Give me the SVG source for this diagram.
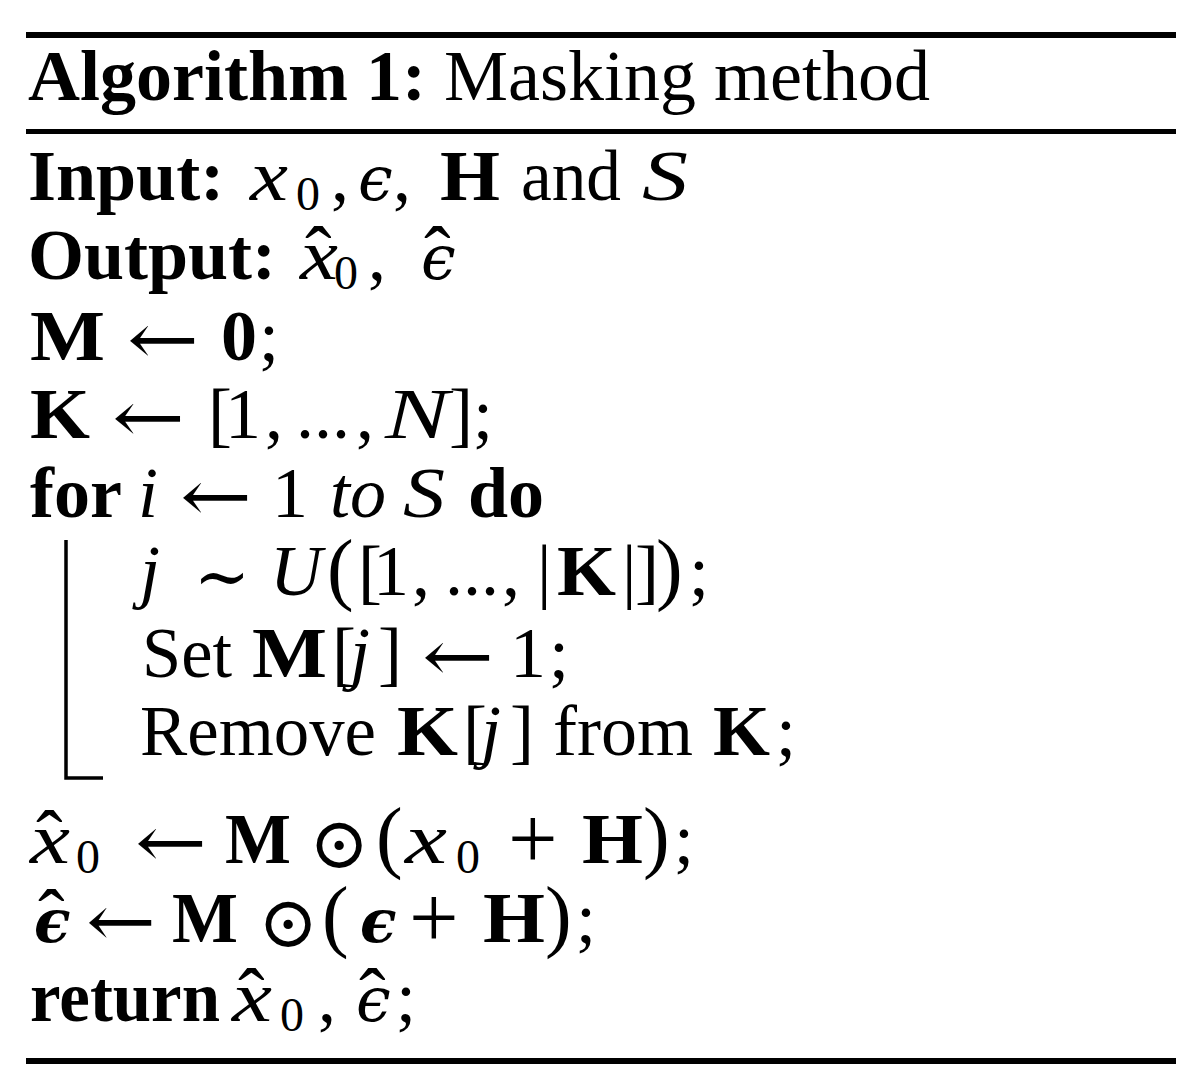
<svg xmlns="http://www.w3.org/2000/svg" width="1196" height="1092" viewBox="0 0 1196 1092">
<style>
text{font-family:"Liberation Serif","DejaVu Serif",serif;font-size:72px;fill:#000}
.b{font-weight:bold}
.i{font-style:italic}
.bi{font-weight:bold;font-style:italic}
.sub{font-size:48px;font-style:normal;font-weight:normal}
.hat{font-family:"Liberation Serif",serif;font-size:80px;font-style:normal;font-weight:normal}
.par{font-size:80px}
.plus{font-size:88px}
.sym{font-family:"DejaVu Serif","DejaVu Sans",serif}
.eps{font-family:"DejaVu Serif","DejaVu Sans",serif;font-size:62px;font-style:italic}
.beps{font-family:"DejaVu Serif","DejaVu Sans",serif;font-size:60px;font-style:italic;font-weight:bold}
</style>
<g id="rules">
<rect x="26" y="32" width="1150" height="6" fill="#000"/>
<rect x="26" y="129" width="1150" height="5" fill="#000"/>
<rect x="26" y="1058" width="1150" height="6" fill="#000"/>
</g>
<g id="title"><text x="28" y="100"><tspan class="b">Algorithm 1:</tspan> Masking method</text></g>
<g id="input">
<text x="28" y="200" class="b">Input:</text>
<text class="i"><tspan x="250" y="200" textLength="38" lengthAdjust="spacingAndGlyphs">x</tspan><tspan x="296" y="210" class="sub">0</tspan></text>
<text x="331" y="200">,</text>
<text x="358" y="200" class="eps">ϵ</text><text x="393" y="200">,</text>
<text x="440" y="200" class="b" textLength="60" lengthAdjust="spacingAndGlyphs">H</text>
<text x="521" y="200" textLength="100" lengthAdjust="spacingAndGlyphs">and</text>
<text x="642" y="200" class="i" textLength="46" lengthAdjust="spacingAndGlyphs">S</text>
</g>
<g id="output">
<text x="28" y="279" class="b">Output:</text>
<text class="i"><tspan x="300" y="279" textLength="38" lengthAdjust="spacingAndGlyphs">x</tspan><tspan x="305" y="282" class="hat">ˆ</tspan><tspan x="334" y="289" class="sub">0</tspan></text>
<text x="368" y="279">,</text>
<text class="eps"><tspan x="421" y="279">ϵ</tspan><tspan x="424" y="282" class="hat">ˆ</tspan></text>
</g>
<g id="line-m">
<text x="30" y="360" class="b" textLength="75" lengthAdjust="spacingAndGlyphs">M</text>
<text x="127" y="364" class="sym" textLength="72" lengthAdjust="spacingAndGlyphs">←</text>
<text x="221" y="360" class="b">0</text>
<text x="259" y="360">;</text>
</g>
<g id="line-k">
<text x="30" y="438" class="b" textLength="60" lengthAdjust="spacingAndGlyphs">K</text>
<text x="112" y="442" class="sym" textLength="73" lengthAdjust="spacingAndGlyphs">←</text>
<text x="208" y="438">[</text>
<text x="225" y="438">1</text>
<text x="265" y="438">,</text>
<text x="296" y="438">...</text>
<text x="356" y="438">,</text>
<text x="385" y="438" class="i" textLength="64" lengthAdjust="spacingAndGlyphs">N</text>
<text x="449" y="438">]</text>
<text x="473" y="438">;</text>
</g>
<g id="line-for">
<text x="30" y="517" class="b">for</text>
<text x="138" y="517" class="i">i</text>
<text x="180" y="521" class="sym" textLength="72" lengthAdjust="spacingAndGlyphs">←</text>
<text x="272" y="517">1</text>
<text x="330" y="517" class="i">to</text>
<text x="403" y="517" class="i" textLength="42" lengthAdjust="spacingAndGlyphs">S</text>
<text x="468" y="517" class="b">do</text>
</g>
<g id="loop-bracket">
<path d="M66 540 V778 H103" fill="none" stroke="#000" stroke-width="3.5"/>
</g>
<g id="line-j">
<text x="140" y="595" class="i">j</text>
<text x="194" y="601" class="sym" textLength="56" lengthAdjust="spacingAndGlyphs">∼</text>
<text x="270" y="595" class="i">U</text>
<text x="327" y="595" class="par">(</text>
<text x="358" y="595">[</text>
<text x="373" y="595">1</text>
<text x="412" y="595">,</text>
<text x="445" y="595">...</text>
<text x="502" y="595">,</text>
<text x="537" y="595">|</text>
<text x="557" y="595" class="b" textLength="59" lengthAdjust="spacingAndGlyphs">K</text>
<text x="622" y="595">|</text>
<text x="635" y="595">]</text>
<text x="656" y="595" class="par">)</text>
<text x="689" y="595">;</text>
</g>
<g id="line-set">
<text x="142" y="677" textLength="90" lengthAdjust="spacingAndGlyphs">Set</text>
<text x="252" y="677" class="b" textLength="75" lengthAdjust="spacingAndGlyphs">M</text>
<text x="332" y="677">[</text>
<text x="350" y="677" class="i">j</text>
<text x="378" y="677">]</text>
<text x="422" y="681" class="sym" textLength="72" lengthAdjust="spacingAndGlyphs">←</text>
<text x="510" y="677">1</text>
<text x="549" y="677">;</text>
</g>
<g id="line-remove">
<text x="140" y="755" textLength="236" lengthAdjust="spacingAndGlyphs">Remove</text>
<text x="397" y="755" class="b" textLength="61" lengthAdjust="spacingAndGlyphs">K</text>
<text x="463" y="755">[</text>
<text x="481" y="755" class="i">j</text>
<text x="510" y="755">]</text>
<text x="553" y="755">from</text>
<text x="713" y="755" class="b" textLength="57" lengthAdjust="spacingAndGlyphs">K</text>
<text x="776" y="755">;</text>
</g>
<g id="line-xhat">
<text class="i"><tspan x="30" y="863" textLength="40" lengthAdjust="spacingAndGlyphs">x</tspan><tspan x="36" y="866" class="hat">ˆ</tspan><tspan x="76" y="873" class="sub">0</tspan></text>
<text x="135" y="867" class="sym" textLength="72" lengthAdjust="spacingAndGlyphs">←</text>
<text x="225" y="863" class="b" textLength="66" lengthAdjust="spacingAndGlyphs">M</text>
<text x="309" y="868" class="sym" font-size="76">⊙</text>
<text x="376" y="863" class="par">(</text>
<text class="i"><tspan x="405" y="863" textLength="42" lengthAdjust="spacingAndGlyphs">x</tspan><tspan x="456" y="873" class="sub">0</tspan></text>
<text x="508" y="868" class="plus">+</text>
<text x="582" y="863" class="b" textLength="61" lengthAdjust="spacingAndGlyphs">H</text>
<text x="643" y="863" class="par">)</text>
<text x="674" y="863">;</text>
</g>
<g id="line-ehat">
<text class="beps"><tspan x="34" y="942">ϵ</tspan><tspan x="38" y="945" class="hat">ˆ</tspan></text>
<text x="86" y="946" class="sym" textLength="70" lengthAdjust="spacingAndGlyphs">←</text>
<text x="172" y="942" class="b" textLength="66" lengthAdjust="spacingAndGlyphs">M</text>
<text x="258" y="947" class="sym" font-size="76">⊙</text>
<text x="322" y="942" class="par">(</text>
<text x="360" y="942" class="beps">ϵ</text>
<text x="409" y="947" class="plus">+</text>
<text x="483" y="942" class="b" textLength="62" lengthAdjust="spacingAndGlyphs">H</text>
<text x="545" y="942" class="par">)</text>
<text x="576" y="942">;</text>
</g>
<g id="line-return">
<text x="30" y="1021" class="b" textLength="190" lengthAdjust="spacingAndGlyphs">return</text>
<text class="i"><tspan x="232" y="1021" textLength="40" lengthAdjust="spacingAndGlyphs">x</tspan><tspan x="238" y="1024" class="hat">ˆ</tspan><tspan x="280" y="1031" class="sub">0</tspan></text>
<text x="318" y="1021">,</text>
<text class="eps"><tspan x="356" y="1021">ϵ</tspan><tspan x="359" y="1024" class="hat">ˆ</tspan></text>
<text x="396" y="1021">;</text>
</g>
</svg>
